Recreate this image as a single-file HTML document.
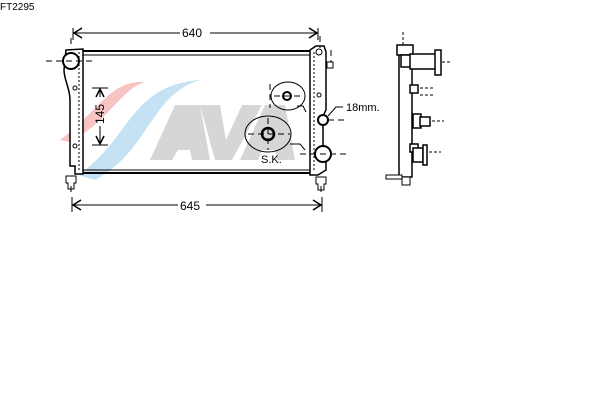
<!DOCTYPE html>
<html><head><style>body{margin:0;background:#fff}svg{display:block}</style></head><body>
<svg width="600" height="400" viewBox="0 0 600 400" xmlns="http://www.w3.org/2000/svg" font-family="Liberation Sans, sans-serif">
<text x="0" y="10" font-size="10">FT2295</text>
<!-- logo -->
<path d="M60 140 C100 110 110 80 145 82 C120 90 110 120 70 142Z" fill="#f6b4b4" opacity="0.8"/>
<path d="M78 175 C130 140 130 85 200 80 C150 95 150 150 95 180Z" fill="#bcdcf2" opacity="0.85"/>
<g fill="#d6d6d6">
<polygon points="150,160 175,105 200,105 210,160 192,160 190,150 178,150 172,160"/>
<polygon points="200,105 220,105 226,140 242,105 262,105 232,160 215,160"/>
<polygon points="240,160 265,105 285,105 295,160 277,160 275,150 262,150 258,160"/>
</g>
<g stroke="#000" fill="none" stroke-width="1.5">
<line x1="83" y1="51" x2="310" y2="51" stroke-width="2"/>
<line x1="83" y1="55" x2="310" y2="55" stroke-width="1"/>
<line x1="83" y1="170" x2="310" y2="170" stroke-width="1"/>
<line x1="83" y1="173" x2="310" y2="173" stroke-width="2"/>
<path d="M66 50 L83 49 L83 174 L75 174 L75 166 L70 166 L70 100 C70 88 64 80 64 70 Z" fill="#fff"/>
<line x1="79" y1="52" x2="79" y2="170" stroke-dasharray="2,2" stroke-width="1"/>
<circle cx="71" cy="61" r="8" fill="#fff" stroke-width="2"/>
<circle cx="75" cy="88" r="2" stroke-width="1"/>
<circle cx="75" cy="146" r="2" stroke-width="1"/>
<path d="M66 176 h10 v7 h-2 v6 h-6 v-6 h-2 z" stroke-width="1"/>
<path d="M310 50 L316 46 L324 46 L326 52 L326 110 L323 116 L323 145 L326 150 L326 170 L318 175 L310 175 Z" fill="#fff"/>
<line x1="314" y1="52" x2="314" y2="170" stroke-dasharray="2,2" stroke-width="1"/>
<circle cx="319" cy="52" r="3" stroke-width="1"/>
<rect x="327" y="62" width="6" height="6" stroke-width="1"/>
<circle cx="319" cy="95" r="2" stroke-width="1"/>
<circle cx="323" cy="120" r="5" fill="#fff" stroke-width="2"/>
<circle cx="323" cy="154" r="8" fill="#fff" stroke-width="2"/>
<path d="M316 177 h10 v7 h-2 v6 h-6 v-6 h-2 z" stroke-width="1"/>
<ellipse cx="288" cy="96" rx="17" ry="14" stroke-width="1"/>
<circle cx="287" cy="96" r="4" stroke-width="2"/>
<ellipse cx="268" cy="134" rx="23" ry="18" stroke-width="1"/>
<circle cx="268" cy="134" r="6" stroke-width="2.5"/>
<path d="M297 106 L303 106 L306 112" stroke-width="1"/>
<path d="M290 144 L300 144 L305 150" stroke-width="1"/>
<path d="M343 107 L336 107 L328 116" stroke-width="1"/>
</g>
<g stroke="#000" stroke-width="1" stroke-dasharray="6,4">
<line x1="46" y1="61" x2="96" y2="61"/><line x1="71" y1="38" x2="71" y2="48"/>
<line x1="320" y1="36" x2="320" y2="48"/><line x1="331" y1="50" x2="331" y2="62"/>
<line x1="328" y1="120" x2="345" y2="120"/><line x1="300" y1="154" x2="350" y2="154"/>
<line x1="270" y1="84" x2="270" y2="108"/><line x1="274" y1="96" x2="302" y2="96"/>
<line x1="268" y1="118" x2="268" y2="150"/><line x1="248" y1="134" x2="290" y2="134"/>
<line x1="71" y1="186" x2="71" y2="194"/><line x1="321" y1="186" x2="321" y2="194"/>
</g>
<g stroke="#000" stroke-width="1" fill="none">
<line x1="73" y1="28" x2="73" y2="40"/><line x1="318" y1="28" x2="318" y2="40"/>
<line x1="73" y1="33" x2="180" y2="33"/><line x1="210" y1="33" x2="318" y2="33"/>
<path d="M82 28 L74 33 L82 38 M309 28 L317 33 L309 38" stroke-width="1.5"/>
<line x1="72" y1="197" x2="72" y2="212"/><line x1="322" y1="197" x2="322" y2="212"/>
<line x1="72" y1="205" x2="178" y2="205"/><line x1="206" y1="205" x2="322" y2="205"/>
<path d="M81 200 L73 205 L81 210 M313 200 L321 205 L313 210" stroke-width="1.5"/>
<line x1="92" y1="88" x2="108" y2="88"/><line x1="92" y1="145" x2="108" y2="145"/>
<line x1="100" y1="88" x2="100" y2="97"/><line x1="100" y1="126" x2="100" y2="145"/>
<path d="M96 97 L100 89 L104 97 M96 136 L100 144 L104 136" stroke-width="1.5"/>
</g>
<text x="182" y="37" font-size="12">640</text>
<text x="180" y="210" font-size="12">645</text>
<text x="104" y="124" font-size="12" transform="rotate(-90 104 124)" text-anchor="start">145</text>
<text x="261" y="163" font-size="11">S.K.</text>
<text x="346" y="111" font-size="11">18mm.</text>
<g stroke="#000" fill="#fff" stroke-width="1.5">
<rect x="399" y="47" width="13" height="130"/>
<rect x="397" y="45" width="16" height="10"/>
<path d="M401 55 h12 v12 h-12 z"/>
<path d="M410 54 h26 v15 h-26 z"/>
<rect x="435" y="50" width="6" height="25"/>
<rect x="410" y="85" width="8" height="8"/>
<rect x="413" y="114" width="8" height="14"/>
<rect x="420" y="117" width="10" height="9"/>
<rect x="410" y="144" width="8" height="8"/>
<rect x="413" y="148" width="10" height="14"/>
<rect x="423" y="145" width="4" height="20"/>
<path d="M386 175 h16 v4 h-16 z" stroke-width="1"/>
<path d="M402 177 h8 v8 h-8 z" stroke-width="1"/>
</g>
<g stroke="#000" stroke-width="1" stroke-dasharray="3,2">
<line x1="403" y1="32" x2="403" y2="45"/>
<line x1="442" y1="62" x2="452" y2="62"/>
<line x1="420" y1="88" x2="434" y2="88"/><line x1="420" y1="95" x2="434" y2="95"/>
<line x1="432" y1="121" x2="444" y2="121"/>
<line x1="429" y1="152" x2="441" y2="152"/>
</g>
</svg>
</body></html>
